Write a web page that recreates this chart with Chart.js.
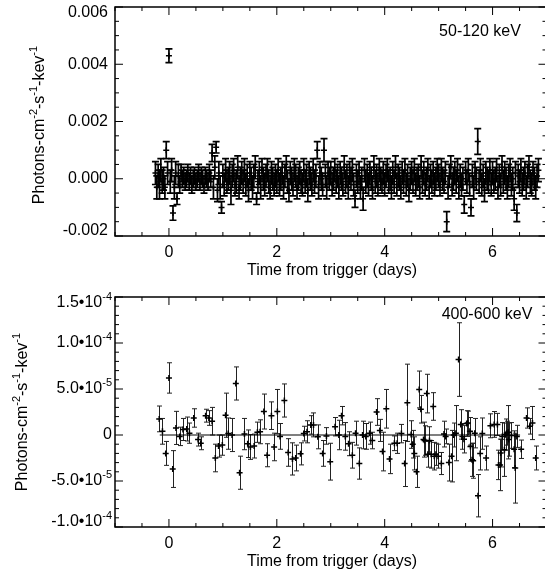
<!DOCTYPE html>
<html>
<head>
<meta charset="utf-8">
<script src="https://cdn.jsdelivr.net/npm/chart.js@4.4.1/dist/chart.umd.min.js"></script>
<style>
  html, body { margin: 0; padding: 0; background: #fff; overflow: hidden; }
  #wrap { position: relative; width: 545px; height: 576px; overflow: hidden; }
  canvas { position: absolute; left: 0; }
</style>
</head>
<body>
<div id="wrap">
  <canvas id="soft" width="552" height="290" style="top:0"></canvas>
  <canvas id="hard" width="552" height="286" style="top:290px"></canvas>
</div>
<script>
// 50-120 keV light curve, rate in units of 1e-4 photons/cm2/s/keV
const softTime = [-0.250,-0.225,-0.200,-0.175,-0.150,-0.125,-0.100,-0.075,-0.050,-0.025,
  0.000,0.025,0.050,0.075,0.100,0.125,0.150,0.175,0.200,0.225,0.250,0.275,0.300,0.325,0.350,0.375,0.400,0.425,0.450,0.475,
  0.500,0.525,0.550,0.575,0.600,0.625,0.650,0.675,0.700,0.725,0.750,0.775,0.800,0.825,0.850,0.875,0.900,0.925,0.950,0.975,
  1.000,1.025,1.050,1.075,1.100,1.125,1.150,1.175,1.200,1.225,1.250,1.275,1.300,1.325,1.350,1.375,1.400,1.425,1.450,1.475,
  1.500,1.525,1.550,1.575,1.600,1.625,1.650,1.675,1.700,1.725,1.750,1.775,1.800,1.825,1.850,1.875,1.900,1.925,1.950,1.975,
  2.000,2.025,2.050,2.075,2.100,2.125,2.150,2.175,2.200,2.225,2.250,2.275,2.300,2.325,2.350,2.375,2.400,2.425,2.450,2.475,
  2.500,2.525,2.550,2.575,2.600,2.625,2.650,2.675,2.700,2.725,2.750,2.775,2.800,2.825,2.850,2.875,2.900,2.925,2.950,2.975,
  3.000,3.025,3.050,3.075,3.100,3.125,3.150,3.175,3.200,3.225,3.250,3.275,3.300,3.325,3.350,3.375,3.400,3.425,3.450,3.475,
  3.500,3.525,3.550,3.575,3.600,3.625,3.650,3.675,3.700,3.725,3.750,3.775,3.800,3.825,3.850,3.875,3.900,3.925,3.950,3.975,
  4.000,4.025,4.050,4.075,4.100,4.125,4.150,4.175,4.200,4.225,4.250,4.275,4.300,4.325,4.350,4.375,4.400,4.425,4.450,4.475,
  4.500,4.525,4.550,4.575,4.600,4.625,4.650,4.675,4.700,4.725,4.750,4.775,4.800,4.825,4.850,4.875,4.900,4.925,4.950,4.975,
  5.000,5.025,5.050,5.075,5.100,5.125,5.150,5.175,5.200,5.225,5.250,5.275,5.300,5.325,5.350,5.375,5.400,5.425,5.450,5.475,
  5.500,5.525,5.550,5.575,5.600,5.625,5.650,5.675,5.700,5.725,5.750,5.775,5.800,5.825,5.850,5.875,5.900,5.925,5.950,5.975,
  6.000,6.025,6.050,6.075,6.100,6.125,6.150,6.175,6.200,6.225,6.250,6.275,6.300,6.325,6.350,6.375,6.400,6.425,6.450,6.475,
  6.500,6.525,6.550,6.575,6.600,6.625,6.650,6.675,6.700,6.725,6.750,6.775,6.800,6.825,6.850];
const softRate = [2,-3,1,-2,3,-1,0,-3,10,2,
  43,-1,3,-12,-3,2,-7,1,-2,2,0,1,-1,0,2,-1,1,-2,0,1,
  -1,0,2,-1,1,0,-2,1,0,-1,2,0,9,-3,4,11,-4,2,-3,-10,
  1,-2,3,-1,0,2,-4,1,3,-2,-1,4,-3,0,2,-1,3,-2,1,-4,
  2,0,-3,1,4,-7,-1,2,-3,3,0,-2,1,3,-1,-3,2,0,-2,1,
  -1,3,-2,0,2,-3,1,4,-1,-4,2,0,-2,3,1,-3,0,2,-1,-2,
  3,-1,1,-4,2,0,-2,3,-1,1,10,-3,2,0,-2,10,1,-3,2,0,
  2,-2,0,3,-1,1,-3,2,0,-2,4,-1,1,-3,2,0,3,-2,-7,1,
  -1,2,-3,0,-7,3,-1,1,-2,2,0,-3,4,-1,1,-2,3,0,-1,2,
  -2,1,3,-1,0,-3,2,-1,4,-2,1,0,-3,2,-1,3,-2,1,-4,0,
  2,-1,3,-2,0,1,-3,4,-1,2,-2,0,3,-3,1,-1,2,-2,0,3,
  1,-2,3,0,-1,2,-15,-3,1,4,-2,0,2,-1,3,-3,1,-2,0,-9,
  2,-1,3,-2,-10,1,-3,2,0,13,-1,3,-2,1,-4,2,0,-1,3,-2,
  2,-1,0,3,-3,1,-2,4,-1,2,0,-3,1,3,-2,0,-7,2,-12,1,
  -1,3,-2,0,2,-3,1,4,-1,-2,2,0,-3,1,3];
const softErr = [4,4,4,5,4,4,4,4,3,4,
  2.4,4,4,2.5,4,4,2,4,3,3,3,3,3,3,3,3,3,3,3,3,
  3,3,3,3,3,3,3,3,3,3,3,3,3,4,4,2,4,4,4,2,
  4,4,4,4,4,4,5,4,4,4,4,4,4,4,4,4,4,4,4,4,
  4,4,4,4,4,2,4,4,4,4,4,4,4,4,4,4,4,4,4,4,
  4,4,4,4,4,4,4,4,4,4,4,4,4,4,4,4,4,4,4,4,
  4,4,4,4,4,4,4,4,4,4,3,4,4,4,4,4,4,4,4,4,
  4,4,4,4,4,4,4,4,4,4,4,4,4,4,4,4,4,4,3,4,
  4,4,4,4,4,4,4,4,4,4,4,4,4,4,4,4,4,4,4,4,
  4,4,4,4,4,4,4,4,4,4,4,4,4,4,4,4,4,4,4,4,
  4,4,4,4,4,4,4,4,4,4,4,4,4,4,4,4,4,4,4,4,
  4,4,4,4,4,4,3.5,4,4,4,4,4,4,4,4,4,4,4,4,3,
  4,4,4,4,3,4,4,4,4,4.5,4,4,4,4,4,4,4,4,4,4,
  4,4,4,4,4,4,4,4,4,4,4,4,4,4,4,4,4,4,3,4,
  4,4,4,4,4,4,4,4,4,4,4,4,4,4,4];

// 400-600 keV light curve, rate in units of 1e-5 photons/cm2/s/keV
const hardTime = [-0.18,-0.12,-0.06,0.00,0.07,0.13,0.20,0.26,0.33,0.38,0.46,0.54,0.59,0.68,0.74,0.80,0.86,0.92,0.99,
  1.05,1.10,1.17,1.24,1.31,1.40,1.46,1.51,1.58,1.64,1.69,1.76,1.82,1.90,1.95,
  2.01,2.06,2.14,2.21,2.29,2.35,2.44,2.50,2.56,2.63,2.68,2.76,2.85,2.92,2.99,
  3.08,3.15,3.20,3.27,3.33,3.40,3.46,3.53,3.59,3.65,3.72,3.77,3.85,3.91,3.96,
  4.03,4.09,4.18,4.23,4.31,4.37,4.42,4.49,4.52,4.55,4.59,4.64,4.67,4.72,4.74,4.78,4.80,4.83,4.86,4.90,4.92,4.95,4.99,
  5.05,5.10,5.13,5.19,5.24,5.28,5.32,5.37,5.41,5.44,5.47,5.52,5.54,5.58,5.59,5.62,5.64,5.67,5.73,5.77,5.81,5.88,5.96,
  6.03,6.09,6.11,6.14,6.15,6.18,6.22,6.24,6.26,6.29,6.30,6.35,6.40,6.42,6.45,6.53,6.63,6.69,6.74,6.80];
const hardRate = [1.75,0.4,-2.0,6.2,-3.7,0.77,-0.15,0.6,0.65,0.2,1.85,-0.5,-0.9,2.1,1.85,1.5,-2.5,-1.2,-1.1,
  2.15,0.15,0.0,5.6,-4.1,0.1,-0.95,-1.3,-1.2,0.3,0.35,2.55,-2.2,2.1,-1.3,
  2.55,-0.15,3.75,-1.9,-2.6,-2.5,-2.05,0.15,0.35,1.1,1.1,-0.2,-2.0,-0.1,-2.9,
  0.9,0.0,2.1,-0.15,-0.95,-2.2,0.2,-3.1,0.0,-0.15,0.2,-0.6,2.5,0.5,-1.8,
  2.85,-2.6,-0.9,-0.9,0.15,-3.1,3.5,0.05,-1.0,-2.0,-4.0,4.95,2.8,-0.5,-0.6,4.5,-2.1,-0.6,-2.1,3.1,-2.3,-2.1,-2.3,
  -3.1,0.1,-0.15,-3.0,-2.3,0.0,0.2,8.2,1.15,-0.15,-0.45,1.24,1.3,0.4,-1.24,-2.7,-2.8,0.2,-6.6,-2.0,0.15,-2.5,1.0,
  1.15,1.15,-3.25,-3.25,-1.97,-0.15,-1.6,0.04,0.2,0.3,-0.5,-0.05,-1.55,-3.6,-0.15,-1.55,1.85,0.95,1.3,-2.5];
const hardErr = [1.4,1.4,1.3,1.65,2.0,1.8,1.0,1.2,1.3,1.1,1.0,0.7,0.7,0.7,0.8,1.5,1.5,1.2,1.1,
  2.4,1.7,1.8,1.8,1.8,1.7,1.5,1.35,1.3,1.1,1.3,1.9,1.25,1.5,1.5,
  2.4,1.4,1.8,1.5,1.75,1.4,1.2,0.8,1.2,1.0,1.3,1.3,1.4,0.9,2.0,
  1.0,1.6,1.0,1.5,1.3,1.4,1.3,1.7,1.5,1.4,1.2,0.9,1.45,1.2,2.1,
  2.1,1.6,0.8,1.1,1.0,2.5,4.2,1.5,1.5,1.8,1.7,2.0,1.5,1.9,1.6,2.1,1.4,1.5,1.5,1.5,1.5,1.2,1.3,
  1.2,1.4,0.8,2.0,2.8,1.3,3.0,4.0,1.6,1.4,1.5,1.4,1.3,1.5,1.6,1.8,1.9,1.6,2.3,1.8,1.7,1.3,1.3,
  1.4,1.2,1.6,2.8,1.5,1.5,2.9,1.7,1.3,2.9,1.8,1.4,2.0,3.8,1.2,1.0,1.1,0.85,1.8,1.3];
const zeroLineTime = [-0.17, 6.51];

const xTickValues = [0, 2, 4, 6];
const xTickLabels = ['0', '2', '4', '6'];
const softTickValues = [-0.002, 0, 0.002, 0.004, 0.006];
const softTickLabels = ['-0.002', '0.000', '0.002', '0.004', '0.006'];
const hardTickValues = [-1e-4, -5e-5, 0, 5e-5, 1e-4, 1.5e-4];
const hardTickLabels = [['-1.0\u202210', '-4'], ['-5.0\u202210', '-5'], ['0', ''], ['5.0\u202210', '-5'], ['1.0\u202210', '-4'], ['1.5\u202210', '-4']];

const FONT = '"Liberation Sans", Arial, Helvetica, sans-serif';

const errorBars = {
  id: 'errorBars',
  beforeDatasetsDraw(chart) {
    const ctx = chart.ctx, xs = chart.scales.x, ys = chart.scales.y;
    ctx.save();
    chart.data.datasets.forEach(ds => {
      if (!ds.errors) return;
      ctx.strokeStyle = ds.errorColor;
      ctx.lineWidth = ds.errorWidth;
      const cap = ds.capHalf;
      ds.data.forEach((p, i) => {
        let x = xs.getPixelForValue(p.x);
        if (ds.snap) x = Math.round(x) + 0.5;
        const y1 = ys.getPixelForValue(p.y - ds.errors[i]);
        const y2 = ys.getPixelForValue(p.y + ds.errors[i]);
        ctx.beginPath();
        ctx.moveTo(x, y1); ctx.lineTo(x, y2);
        ctx.moveTo(x - cap, y1); ctx.lineTo(x + cap, y1);
        ctx.moveTo(x - cap, y2); ctx.lineTo(x + cap, y2);
        ctx.stroke();
      });
    });
    ctx.restore();
  }
};

function measureParts(ctx, parts) {
  let w = 0;
  parts.forEach(p => { ctx.font = (p[1] ? 11 : 16) + 'px ' + FONT; w += ctx.measureText(p[0]).width; });
  return w;
}

function axesPlugin(o) {
  return {
    id: 'axesFrame',
    afterDraw(chart) {
      const ctx = chart.ctx, a = chart.chartArea, xs = chart.scales.x, ys = chart.scales.y;
      ctx.save();
      ctx.strokeStyle = '#000';
      ctx.fillStyle = '#000';
      ctx.lineWidth = 1.5;
      ctx.strokeRect(a.left, a.top, a.right - a.left, a.bottom - a.top);

      // tick marks on all four sides
      ctx.lineWidth = 1;
      ctx.beginPath();
      for (let k = 0; k <= 16; k++) {
        const v = -1 + k * 0.5;
        const len = (v % 2 === 0 && v >= 0) ? 8 : 4;
        const x = xs.getPixelForValue(v);
        ctx.moveTo(x, a.bottom); ctx.lineTo(x, a.bottom - len);
        ctx.moveTo(x, a.top); ctx.lineTo(x, a.top + len);
      }
      const nMinor = Math.round((o.yMax - o.yMin) / o.minorStep);
      for (let k = 0; k <= nMinor; k++) {
        const v = o.yMin + k * o.minorStep;
        const len = (k % o.minorPerMajor === 0) ? 8 : 4;
        const y = ys.getPixelForValue(v);
        ctx.moveTo(a.left, y); ctx.lineTo(a.left + len, y);
        ctx.moveTo(a.right, y); ctx.lineTo(a.right - len, y);
      }
      ctx.stroke();

      // x tick labels and title
      ctx.font = '16px ' + FONT;
      ctx.textAlign = 'center';
      ctx.textBaseline = 'middle';
      xTickValues.forEach((v, i) => ctx.fillText(xTickLabels[i], xs.getPixelForValue(v), a.bottom + 17));
      ctx.fillText('Time from trigger (days)', o.titleX, a.bottom + 35);

      // y tick labels, end labels kept inside the axis range
      o.yLabels.forEach((lab, i) => {
        let y = ys.getPixelForValue(o.yValues[i]);
        y = Math.min(Math.max(y, a.top + 6), a.bottom - 5);
        const main = Array.isArray(lab) ? lab[0] : lab;
        const sup = Array.isArray(lab) ? lab[1] : '';
        ctx.textAlign = 'right';
        let right = o.labelRight;
        if (sup) {
          ctx.font = '11px ' + FONT;
          ctx.textBaseline = 'alphabetic';
          ctx.fillText(sup, right, y - 3);
          right -= ctx.measureText(sup).width;
        }
        ctx.font = '16px ' + FONT;
        ctx.textBaseline = 'middle';
        ctx.fillText(main, right, y);
      });

      // rotated y title with superscripts
      const parts = [['Photons-cm', 0], ['-2', 1], ['-s', 0], ['-1', 1], ['-kev', 0], ['-1', 1]];
      const w = measureParts(ctx, parts);
      ctx.translate(o.yTitleX, o.yTitleY);
      ctx.rotate(-Math.PI / 2);
      ctx.textAlign = 'left';
      ctx.textBaseline = 'middle';
      let x = -w / 2;
      parts.forEach(p => {
        ctx.font = (p[1] ? 11 : 16) + 'px ' + FONT;
        ctx.fillText(p[0], x, p[1] ? -6 : 0);
        x += ctx.measureText(p[0]).width;
      });
      ctx.setTransform(1, 0, 0, 1, 0, 0);

      // energy band annotation
      ctx.font = '16px ' + FONT;
      ctx.textAlign = 'center';
      ctx.textBaseline = 'middle';
      ctx.fillText(o.band, o.bandX, o.bandY);
      ctx.restore();
    }
  };
}

function makePanel(id, times, rates, errs, unit, opts, extra) {
  const pts = times.map((t, i) => ({ x: t, y: rates[i] * unit }));
  const datasets = [{
    data: pts,
    errors: errs.map(e => e * unit),
    errorColor: opts.errorColor,
    errorWidth: opts.errorWidth,
    capHalf: opts.capHalf,
    snap: opts.snap,
    pointStyle: 'cross',
    pointRadius: 3,
    borderColor: '#000',
    backgroundColor: '#000',
    borderWidth: 1.5
  }];
  if (extra) datasets.unshift(extra);
  new Chart(document.getElementById(id), {
    type: 'scatter',
    data: { datasets },
    options: {
      responsive: false,
      animation: false,
      devicePixelRatio: 1,
      events: [],
      layout: { padding: opts.padding },
      scales: {
        x: { type: 'linear', min: -1, max: 7, display: false },
        y: { type: 'linear', min: opts.yMin, max: opts.yMax, display: false }
      },
      plugins: { legend: { display: false }, tooltip: { enabled: false } }
    },
    plugins: [errorBars, axesPlugin(opts)]
  });
}

makePanel('soft', softTime, softRate, softErr, 1e-4, {
  padding: { left: 115, right: 2, top: 7, bottom: 54 },
  yMin: -0.002, yMax: 0.006, minorStep: 0.0005, minorPerMajor: 4,
  yValues: softTickValues, yLabels: softTickLabels, labelRight: 108,
  yTitleX: 40, yTitleY: 125, titleX: 332,
  band: '50-120 keV', bandX: 480, bandY: 32,
  errorColor: '#000', errorWidth: 1.7, capHalf: 3.5, snap: false
});

makePanel('hard', hardTime, hardRate, hardErr, 1e-5, {
  padding: { left: 115, right: 2, top: 7, bottom: 49 },
  yMin: -1e-4, yMax: 1.5e-4, minorStep: 1e-5, minorPerMajor: 5,
  yValues: hardTickValues, yLabels: hardTickLabels, labelRight: 112,
  yTitleX: 23, yTitleY: 122, titleX: 332,
  band: '400-600 keV', bandX: 487, bandY: 25,
  errorColor: '#222', errorWidth: 1, capHalf: 2.5, snap: true
}, {
  type: 'line',
  data: zeroLineTime.map(t => ({ x: t, y: 0 })),
  borderColor: '#000',
  borderWidth: 1.2,
  pointRadius: 0
});
</script>
</body>
</html>
